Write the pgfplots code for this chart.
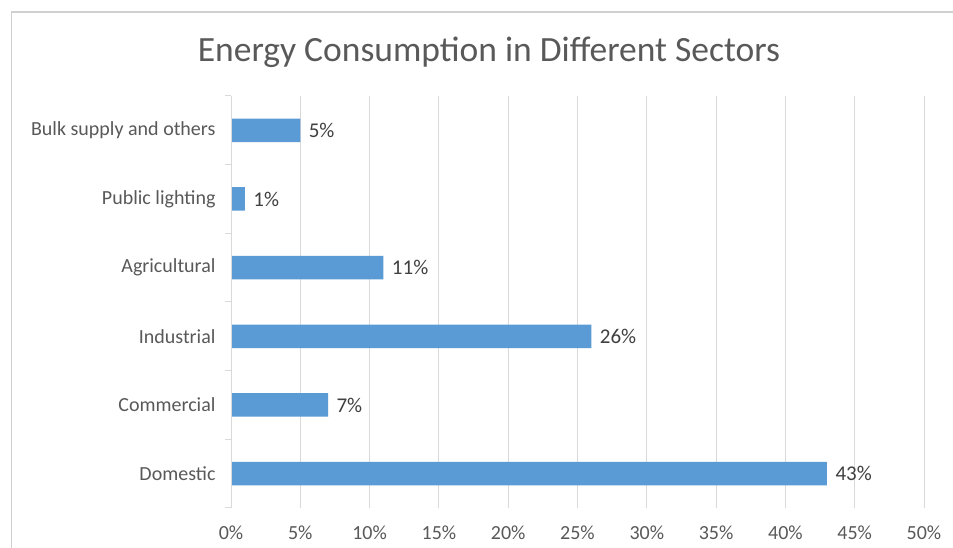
\documentclass[border=0pt]{standalone}
\usepackage{pgfplots}
\pgfplotsset{compat=1.18}
\usepackage{fontspec}
\setmainfont{Carlito}

\definecolor{barblue}{HTML}{5B9BD5}
\definecolor{labelgray}{HTML}{595959}
\definecolor{valuegray}{HTML}{404040}
\definecolor{gridgray}{HTML}{D9D9D9}
\definecolor{framegray}{HTML}{D0D0D0}

\begin{document}
\begin{tikzpicture}[x=1pt,y=1pt]
\useasboundingbox (0,0) rectangle (953,548);
\fill[white] (0,0) rectangle (953,548);
% chart frame
\draw[framegray, line width=1.2pt] (11.5,-5) -- (11.5,536) -- (960,536);
% title
\node[text=labelgray, font=\fontsize{35.5}{42}\selectfont] at (489,496) {Energy Consumption in Different Sectors};

\begin{axis}[
  at={(231pt,40pt)}, anchor=south west,
  scale only axis, width=693pt, height=412pt,
  xbar, bar width=23.5pt,
  xmin=0, xmax=50,
  ymin=-0.5, ymax=5.5,
  xtick={0,5,...,50},
  xticklabels={0\%,5\%,10\%,15\%,20\%,25\%,30\%,35\%,40\%,45\%,50\%},
  ytick={0,1,2,3,4,5},
  yticklabels={Domestic,Commercial,Industrial,Agricultural,Public lighting,Bulk supply and others},
  minor ytick={-0.5,0.5,1.5,2.5,3.5,4.5,5.5},
  major tick length=0pt,
  minor tick length=6pt,
  tick align=outside,
  ytick pos=left, xtick pos=bottom,
  minor tick style={draw=gridgray, line width=1pt},
  xmajorgrids, major grid style={draw=gridgray, line width=1pt},
  axis line style={draw=none},
  ticklabel style={text=labelgray, font=\fontsize{20}{23}\selectfont},
  xticklabel style={yshift=-14pt},
  yticklabel style={xshift=-12pt},
  nodes near coords={\pgfmathprintnumber[assume math mode=true]{\pgfplotspointmeta}\%},
  every node near coord/.append style={text=valuegray, font=\fontsize{21}{24}\selectfont, anchor=west, xshift=5pt},
  clip=false,
]
\addplot[fill=barblue, draw=none] coordinates {
  (43,0) (7,1) (26,2) (11,3) (1,4) (5,5)
};
\draw[gridgray, line width=1pt] (axis cs:0,-0.5) -- (axis cs:0,5.5);
\end{axis}
\end{tikzpicture}
\end{document}
